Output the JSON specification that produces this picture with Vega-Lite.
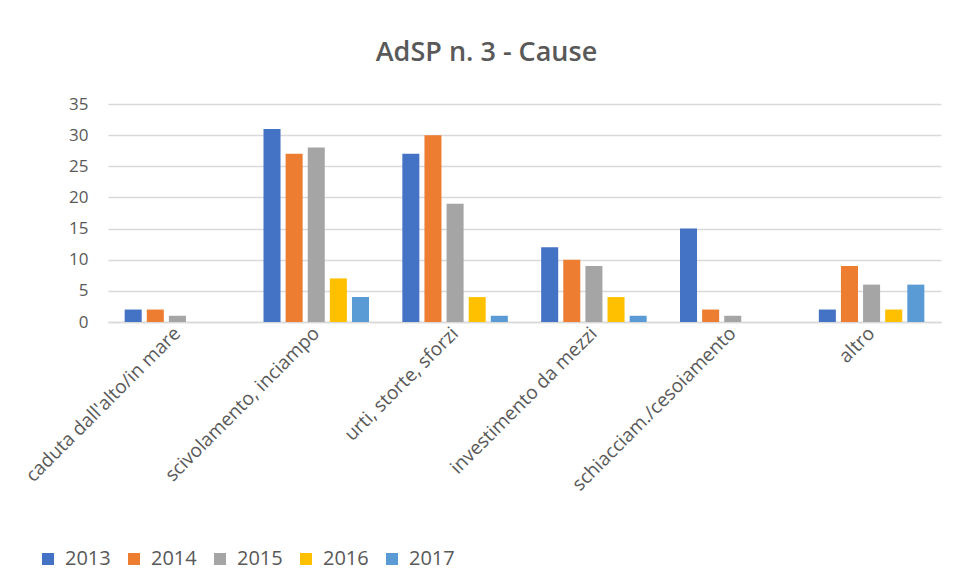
{
  "$schema": "https://vega.github.io/schema/vega-lite/v6.json",
  "width": 833,
  "height": 218,
  "autosize": {"type": "none"},
  "padding": {"left": 108, "top": 104, "right": 17, "bottom": 258},
  "background": "white",
  "title": {
    "text": "AdSP n. 3 - Cause",
    "font": "Open Sans",
    "fontSize": 27,
    "fontWeight": 600,
    "color": "#595959",
    "anchor": "middle",
    "dx": -38,
    "offset": 28
  },
  "data": {
    "values": [
      {"cause": "caduta dall'alto/in mare", "year": "2013", "value": 2},
      {"cause": "caduta dall'alto/in mare", "year": "2014", "value": 2},
      {"cause": "caduta dall'alto/in mare", "year": "2015", "value": 1},
      {"cause": "caduta dall'alto/in mare", "year": "2016", "value": 0},
      {"cause": "caduta dall'alto/in mare", "year": "2017", "value": 0},
      {"cause": "scivolamento, inciampo", "year": "2013", "value": 31},
      {"cause": "scivolamento, inciampo", "year": "2014", "value": 27},
      {"cause": "scivolamento, inciampo", "year": "2015", "value": 28},
      {"cause": "scivolamento, inciampo", "year": "2016", "value": 7},
      {"cause": "scivolamento, inciampo", "year": "2017", "value": 4},
      {"cause": "urti, storte, sforzi", "year": "2013", "value": 27},
      {"cause": "urti, storte, sforzi", "year": "2014", "value": 30},
      {"cause": "urti, storte, sforzi", "year": "2015", "value": 19},
      {"cause": "urti, storte, sforzi", "year": "2016", "value": 4},
      {"cause": "urti, storte, sforzi", "year": "2017", "value": 1},
      {"cause": "investimento da mezzi", "year": "2013", "value": 12},
      {"cause": "investimento da mezzi", "year": "2014", "value": 10},
      {"cause": "investimento da mezzi", "year": "2015", "value": 9},
      {"cause": "investimento da mezzi", "year": "2016", "value": 4},
      {"cause": "investimento da mezzi", "year": "2017", "value": 1},
      {"cause": "schiacciam./cesoiamento", "year": "2013", "value": 15},
      {"cause": "schiacciam./cesoiamento", "year": "2014", "value": 2},
      {"cause": "schiacciam./cesoiamento", "year": "2015", "value": 1},
      {"cause": "schiacciam./cesoiamento", "year": "2016", "value": 0},
      {"cause": "schiacciam./cesoiamento", "year": "2017", "value": 0},
      {"cause": "altro", "year": "2013", "value": 2},
      {"cause": "altro", "year": "2014", "value": 9},
      {"cause": "altro", "year": "2015", "value": 6},
      {"cause": "altro", "year": "2016", "value": 2},
      {"cause": "altro", "year": "2017", "value": 6}
    ]
  },
  "mark": {"type": "bar"},
  "encoding": {
    "x": {
      "field": "cause",
      "type": "nominal",
      "sort": null,
      "scale": {"paddingInner": 0.24, "paddingOuter": 0.12},
      "axis": {
        "title": null,
        "labelAngle": -45,
        "labelAlign": "right",
        "labelBaseline": "middle",
        "labelFont": "Open Sans",
        "labelFontSize": 19,
        "labelColor": "#595959",
        "labelPadding": 8,
        "ticks": false,
        "domainColor": "#d9d9d9",
        "domainWidth": 1.5,
        "grid": false,
        "labelLimit": 400
      }
    },
    "xOffset": {
      "field": "year",
      "type": "nominal",
      "scale": {"paddingInner": 0.23, "paddingOuter": 0}
    },
    "y": {
      "field": "value",
      "type": "quantitative",
      "scale": {"domain": [0, 35]},
      "axis": {
        "title": null,
        "values": [0, 5, 10, 15, 20, 25, 30, 35],
        "domain": false,
        "ticks": false,
        "gridColor": "#d9d9d9",
        "gridWidth": 1.5,
        "labelFont": "Open Sans",
        "labelFontSize": 17,
        "labelColor": "#595959",
        "labelPadding": 20
      }
    },
    "color": {
      "field": "year",
      "type": "nominal",
      "scale": {
        "domain": ["2013", "2014", "2015", "2016", "2017"],
        "range": ["#4472C4", "#ED7D31", "#A5A5A5", "#FFC000", "#5B9BD5"]
      },
      "legend": {
        "title": null,
        "orient": "none",
        "legendX": -70,
        "legendY": 445,
        "direction": "horizontal",
        "columns": 5,
        "symbolType": "square",
        "symbolSize": 144,
        "symbolStrokeWidth": 0,
        "labelFont": "Open Sans",
        "labelFontSize": 20,
        "labelColor": "#595959",
        "labelOffset": 7,
        "columnPadding": 13
      }
    }
  },
  "config": {
    "view": {"stroke": null}
  }
}
